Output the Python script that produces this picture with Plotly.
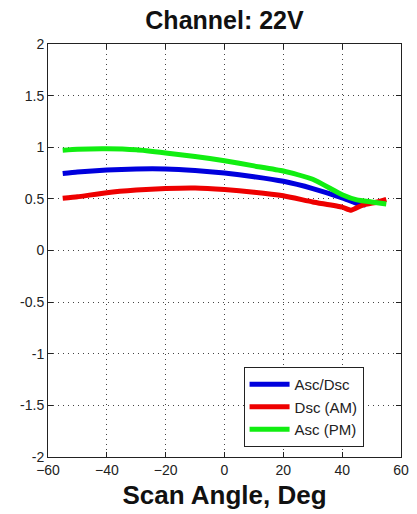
import plotly.graph_objects as go

x_blue = [-55, -50, -40, -30, -20, -10, 0, 10, 20, 30, 40, 45, 48]
y_blue = [0.745, 0.76, 0.78, 0.79, 0.79, 0.775, 0.75, 0.715, 0.67, 0.6, 0.51, 0.455, 0.44]

x_red = [-55, -50, -40, -30, -20, -10, 0, 10, 20, 30, 40, 43, 47, 52, 55]
y_red = [0.505, 0.52, 0.56, 0.585, 0.6, 0.605, 0.59, 0.565, 0.53, 0.47, 0.42, 0.39, 0.44, 0.47, 0.495]

x_green = [-55, -50, -40, -30, -20, -10, 0, 10, 20, 30, 40, 45, 50, 55]
y_green = [0.97, 0.98, 0.985, 0.975, 0.945, 0.91, 0.87, 0.82, 0.77, 0.69, 0.54, 0.49, 0.47, 0.45]

x_ticks = [-60, -40, -20, 0, 20, 40, 60]
y_ticks = [-2, -1.5, -1, -0.5, 0, 0.5, 1, 1.5, 2]
y_tick_labels = ["-2", "-1.5", "-1", "-0.5", "0", "0.5", "1", "1.5", "2"]

FONT = "Liberation Sans, Arial"

fig = go.Figure()
fig.add_trace(go.Scatter(x=x_blue, y=y_blue, mode="lines", name="Asc/Dsc",
                         line=dict(color="#0000dd", width=5, shape="spline", smoothing=0.5)))
fig.add_trace(go.Scatter(x=x_red, y=y_red, mode="lines", name="Dsc (AM)",
                         line=dict(color="#ee0000", width=5, shape="spline", smoothing=0.4)))
fig.add_trace(go.Scatter(x=x_green, y=y_green, mode="lines", name="Asc (PM)",
                         line=dict(color="#11ee11", width=5, shape="spline", smoothing=0.5)))

axis_common = dict(showline=True, linecolor="#222", linewidth=1, mirror="ticks",
                   ticks="inside", ticklen=5, tickcolor="#222",
                   showgrid=True, gridcolor="#444", griddash="1px,4px", gridwidth=1,
                   zeroline=False, tickfont=dict(family=FONT, size=14, color="#222"))

fig.update_layout(
    width=417, height=514,
    margin=dict(l=48, r=8, t=44, b=57),
    paper_bgcolor="white", plot_bgcolor="white",
    title=dict(text="<b>Channel: 22V</b>", xref="paper", x=0.5, xanchor="center",
               y=0.961, yanchor="middle",
               font=dict(family=FONT, size=25, color="#111")),
    xaxis=dict(range=[-60, 60], tickvals=x_ticks,
               title=dict(text="<b>Scan Angle, Deg</b>", standoff=9,
                          font=dict(family=FONT, size=26, color="#111")),
               **axis_common),
    yaxis=dict(range=[-2, 2], tickvals=y_ticks, ticktext=y_tick_labels, **axis_common),
    legend=dict(x=0.554, y=0.218, xanchor="left", yanchor="top",
                bgcolor="white", bordercolor="#222", borderwidth=1,
                font=dict(family=FONT, size=15, color="#222"),
                tracegroupgap=0, itemwidth=40),
    showlegend=True,
)

fig.write_html("out.html")
